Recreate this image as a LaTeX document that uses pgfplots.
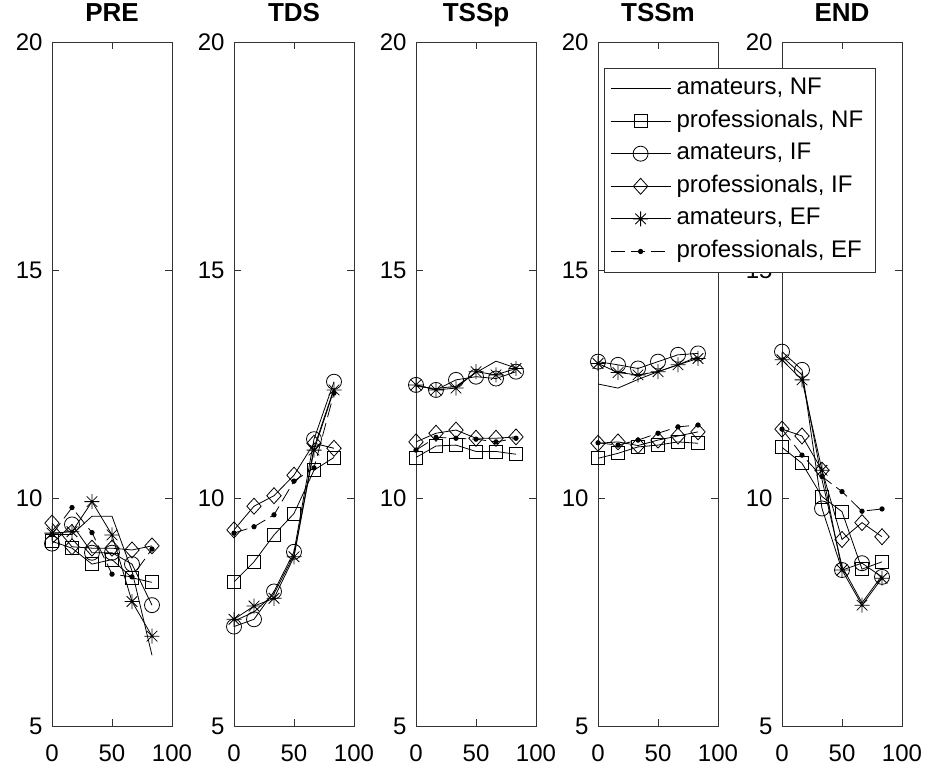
\documentclass[border=0pt]{standalone}
\usepackage{fontspec}
\setmainfont{Liberation Sans}
\usepackage{pgfplots}
\usepackage{pgfplotstable}
\pgfplotsset{compat=1.18}

% MATLAB-like asterisk (8 spokes) and diamond
\pgfdeclareplotmark{mstar}{%
  \pgfpathmoveto{\pgfqpoint{0pt}{\pgfplotmarksize}}\pgfpathlineto{\pgfqpoint{0pt}{-\pgfplotmarksize}}%
  \pgfpathmoveto{\pgfqpoint{\pgfplotmarksize}{0pt}}\pgfpathlineto{\pgfqpoint{-\pgfplotmarksize}{0pt}}%
  \pgfpathmoveto{\pgfqpoint{.7071\pgfplotmarksize}{.7071\pgfplotmarksize}}\pgfpathlineto{\pgfqpoint{-.7071\pgfplotmarksize}{-.7071\pgfplotmarksize}}%
  \pgfpathmoveto{\pgfqpoint{-.7071\pgfplotmarksize}{.7071\pgfplotmarksize}}\pgfpathlineto{\pgfqpoint{.7071\pgfplotmarksize}{-.7071\pgfplotmarksize}}%
  \pgfusepathqstroke}
\pgfdeclareplotmark{mdiamond}{%
  \pgfpathmoveto{\pgfqpoint{0pt}{\pgfplotmarksize}}%
  \pgfpathlineto{\pgfqpoint{.9\pgfplotmarksize}{0pt}}%
  \pgfpathlineto{\pgfqpoint{0pt}{-\pgfplotmarksize}}%
  \pgfpathlineto{\pgfqpoint{-.9\pgfplotmarksize}{0pt}}%
  \pgfpathclose\pgfusepathqstroke}

% x: 0..83.3 in six steps
\pgfplotstableread{
x      aNF   pNF   aIF   pIF   aEF   pEF
0      9.20  9.05  9.00  9.45  9.23  9.20
16.667 9.20  8.90  9.42  8.93  9.26  9.79
33.333 9.60  8.55  8.80  8.90  9.92  9.24
50     9.60  8.65  8.80  8.90  9.19  8.33
66.667 8.40  8.25  8.55  8.86  7.73  8.27
83.333 6.55  8.15  7.65  8.95  6.97  8.88
}\pre
\pgfplotstableread{
x      aNF   pNF   aIF   pIF   aEF   pEF
0      7.30  8.16  7.18  9.30  7.34  9.23
16.667 7.50  8.60  7.34  9.82  7.63  9.37
33.333 7.90  9.19  7.95 10.05  7.80  9.63
50     8.75  9.66  8.82 10.50  8.71 10.37
66.667 11.10 10.61 11.29 11.20 11.05 10.66
83.333 12.40 10.89 12.55 11.09 12.37 12.30
}\tds
\pgfplotstableread{
x      aNF   pNF   aIF   pIF   aEF   pEF
0      12.45 10.89 12.48 11.23 12.48 11.05
16.667 12.40 11.14 12.37 11.42 12.37 11.33
33.333 12.45 11.16 12.59 11.49 12.41 11.31
50     12.75 11.02 12.66 11.31 12.77 11.29
66.667 13.00 11.02 12.62 11.31 12.70 11.23
83.333 12.85 10.96 12.77 11.34 12.84 11.31
}\tssp
\pgfplotstableread{
x      aNF   pNF   aIF   pIF   aEF   pEF
0      12.50 10.87 12.99 11.20 12.95 11.21
16.667 12.41 10.98 12.92 11.23 12.75 11.16
33.333 12.60 11.12 12.84 11.15 12.70 11.27
50     12.77 11.16 12.99 11.27 12.77 11.42
66.667 12.92 11.23 13.14 11.36 12.92 11.56
83.333 13.10 11.20 13.17 11.45 13.06 11.60
}\tssm
\pgfplotstableread{
x      aNF   pNF   aIF   pIF   aEF   pEF
0      13.10 11.11 13.21 11.51 13.03 11.51
16.667 12.70 10.76 12.81 11.36 12.59 10.94
33.333 10.40 10.03  9.77 10.61 10.61 10.47
50      8.50  9.70  8.42  9.09  8.42 10.14
66.667  7.70  8.44  8.57  9.46  7.65  9.71
83.333  8.30  8.60  8.27  9.15  8.24  9.76
}\fin

\pgfplotsset{
  panel/.style={
    scale only axis, width=120pt, height=684pt, anchor=south west,
    xmin=0, xmax=100, ymin=5, ymax=20,
    xtick={0,50,100}, ytick={5,10,15,20},
    tick align=inside, major tick length=7pt,
    axis line style={line width=0.9pt, black!80},
    tick style={line width=0.9pt, black!80},
    /pgf/number format/assume math mode=true,
    tick label style={font=\fontsize{24}{28}\selectfont},
    yticklabel style={xshift=-6pt},
    xticklabel style={yshift=-15pt},
    title style={font=\fontsize{26}{30}\selectfont\bfseries, at={(0.5,1)}, anchor=base, yshift=14pt},
    every axis plot/.append style={line width=0.8pt, black},
    legend image code/.code={\draw[mark repeat=2,mark phase=2,##1] plot coordinates {(0pt,0pt) (30pt,0pt) (60pt,0pt)};},
  },
  sNF/.style={solid, no marks},
  pNFs/.style={solid, mark=square, mark size=6.5pt, mark options={solid}},
  aIFs/.style={solid, mark=o, mark size=7.5pt, mark options={solid}},
  pIFs/.style={solid, mark=mdiamond, mark size=8pt, mark options={solid}},
  aEFs/.style={solid, mark=mstar, mark size=7.5pt, mark options={solid}},
  pEFs/.style={dash pattern=on 14pt off 6pt, mark=*, mark size=2.2pt, mark options={solid}},
}

\newcommand\panelplots[1]{%
  \addplot[sNF]  table[x=x, y=aNF] {#1};
  \addplot[pNFs] table[x=x, y=pNF] {#1};
  \addplot[aIFs] table[x=x, y=aIF] {#1};
  \addplot[pIFs] table[x=x, y=pIF] {#1};
  \addplot[aEFs] table[x=x, y=aEF] {#1};
  \addplot[pEFs] table[x=x, y=pEF] {#1};
}

\begin{document}
\begin{tikzpicture}
\useasboundingbox (0,0) rectangle (929pt,775pt);

\begin{axis}[panel, at={(52pt,49pt)}, title={PRE}]
\panelplots{\pre}
\end{axis}

\begin{axis}[panel, at={(234pt,49pt)}, title={TDS}]
\panelplots{\tds}
\end{axis}

\begin{axis}[panel, at={(416pt,49pt)}, title={TSSp}]
\panelplots{\tssp}
\end{axis}

\begin{axis}[panel, at={(782pt,49pt)}, title={END}]
\panelplots{\fin}
\end{axis}

\begin{axis}[panel, at={(598pt,49pt)}, title={TSSm},
  legend cell align=left,
  legend style={at={(rel axis cs:0.05,0.962)}, anchor=north west,
    font=\fontsize{24}{28}\selectfont, draw=black!80, fill=white,
    inner xsep=6pt, inner ysep=4pt, row sep=0pt,
    nodes={text height=17pt, text depth=5pt, inner ysep=5.3pt, inner xsep=5.5pt}}]
\panelplots{\tssm}
\legend{{amateurs, NF}, {professionals, NF}, {amateurs, IF}, {professionals, IF}, {amateurs, EF}, {professionals, EF}}
\end{axis}
\end{tikzpicture}
\end{document}
